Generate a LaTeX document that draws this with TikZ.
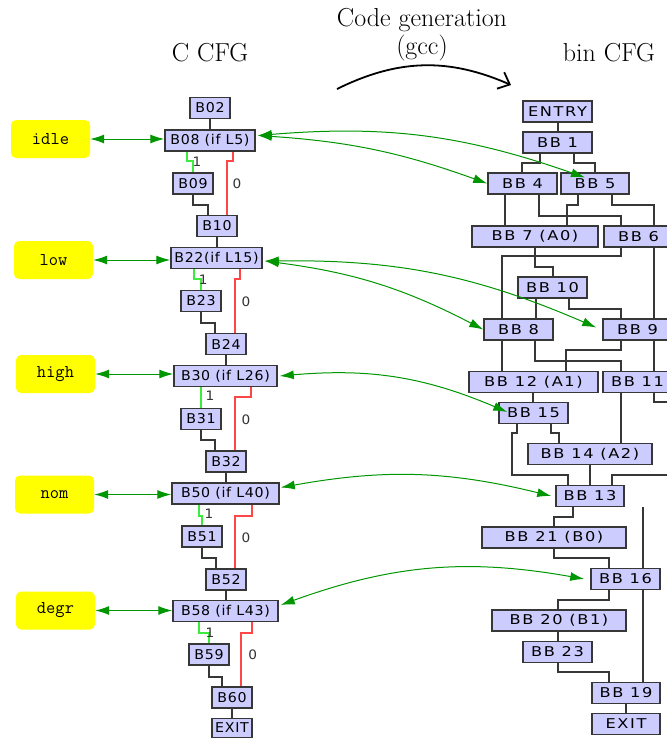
\documentclass[tikz,border=0pt]{standalone}
\usepackage{fontspec}
\usetikzlibrary{arrows.meta}
\newfontfamily\gvL[FakeStretch=1.05,LetterSpace=5]{DejaVu Sans}
\newfontfamily\gvR[FakeStretch=1.2,LetterSpace=12]{DejaVu Sans}
\definecolor{nfill}{RGB}{204,204,255}
\definecolor{nline}{RGB}{55,55,55}
\definecolor{tgreen}{RGB}{0,150,0}
\definecolor{egreen}{RGB}{60,235,60}
\definecolor{ered}{RGB}{255,70,70}
\definecolor{ylw}{RGB}{255,255,0}
\begin{document}
\begin{tikzpicture}[x=1pt,y=-1pt,
  bl/.style={draw=nline,fill=nfill,line width=1.5pt,inner sep=0pt,minimum height=21pt,font=\gvL\fontsize{13.5}{16}\selectfont},
  br/.style={bl,font=\gvR\fontsize{13.5}{16}\selectfont},
  lab/.style={fill=ylw,rounded corners=5pt,minimum width=79pt,minimum height=38pt,inner sep=0pt,font=\ttfamily\fontsize{18}{20}\selectfont},
  e/.style={draw=nline,line width=2pt},
  et/.style={draw=egreen,line width=2pt},
  ef/.style={draw=ered,line width=2pt},
  elab/.style={font=\gvL\fontsize{13}{15}\selectfont,text=black!80,inner sep=0pt},
  lnk/.style={draw=tgreen,line width=1pt,{Latex[length=14pt,width=9pt]}-{Latex[length=14pt,width=9pt]}},
  ttl/.style={font=\fontsize{26}{30}\selectfont,inner sep=0pt,anchor=base}
]
\useasboundingbox (0,0) rectangle (667,740);
\clip (0,0) rectangle (667,740);
\fill[white] (0,0) rectangle (667,740);

% titles
\node[ttl] (tc) at (210,61) {C CFG};
\node[ttl] (tb) at (609,61) {bin CFG};
\node[ttl] (tg1) at (422,26.7) {Code generation};
\node[ttl] (tg2) at (422,54) {(gcc)};
\coordinate (ga) at (337,89);
\coordinate (gb) at (511,85);
\draw[line width=1.8pt,-{Straight Barb[length=10pt,width=18pt]}] (ga) to[bend left=25] (gb);

% left CFG
\node[bl,minimum width=40pt] (b02) at (210,108) {B02};
\node[bl,minimum width=90pt] (b08) at (210,140.5) {B08 (if L5)};
\node[bl,minimum width=40pt] (b09) at (193,183.5) {B09};
\node[bl,minimum width=40pt] (b10) at (217,226) {B10};
\node[bl,minimum width=91pt] (b22) at (216.5,258) {B22(if L15)};
\node[bl,minimum width=40pt] (b23) at (201,301) {B23};
\node[bl,minimum width=40pt] (b24) at (226,344) {B24};
\node[bl,minimum width=103pt] (b30) at (225.5,376) {B30 (if L26)};
\node[bl,minimum width=40pt] (b31) at (201,419) {B31};
\node[bl,minimum width=40pt] (b32) at (226,461.5) {B32};
\node[bl,minimum width=107pt] (b50) at (225.5,493.5) {B50 (if L40)};
\node[bl,minimum width=40pt] (b51) at (202,536.5) {B51};
\node[bl,minimum width=40pt] (b52) at (226,579.5) {B52};
\node[bl,minimum width=105pt] (b58) at (225.5,611) {B58 (if L43)};
\node[bl,minimum width=40pt] (b59) at (209,654.5) {B59};
\node[bl,minimum width=40pt] (b60) at (232,697.5) {B60};
\node[bl,minimum width=40pt,minimum height=19pt] (lexit) at (232,728) {EXIT};

\draw[e] (210,0|-b02.south) -- (210,0|-b08.north);
\draw[et] (187,0|-b08.south) -- (187,161) -- (193,161) -- (193,0|-b09.north);
\draw[ef] (233,0|-b08.south) -- (233,161) -- (227,161) -- (227,0|-b10.north);
\draw[e] (193,0|-b09.south) -- (193,205) -- (208,205) -- (208,0|-b10.north);
\draw[e] (217,0|-b10.south) -- (217,0|-b22.north);
\draw[et] (194,0|-b22.south) -- (194,279) -- (201,279) -- (201,0|-b23.north);
\draw[ef] (240,0|-b22.south) -- (240,279) -- (235,279) -- (235,0|-b24.north);
\draw[e] (201,0|-b23.south) -- (201,323) -- (215,323) -- (215,0|-b24.north);
\draw[e] (226,0|-b24.south) -- (226,0|-b30.north);
\draw[et] (201,0|-b30.south) -- (201,0|-b31.north);
\draw[ef] (251,0|-b30.south) -- (251,397) -- (235,397) -- (235,0|-b32.north);
\draw[e] (201,0|-b31.south) -- (201,440) -- (215,440) -- (215,0|-b32.north);
\draw[e] (226,0|-b32.south) -- (226,0|-b50.north);
\draw[et] (199,0|-b50.south) -- (199,516) -- (202,516) -- (202,0|-b51.north);
\draw[ef] (252,0|-b50.south) -- (252,516) -- (235,516) -- (235,0|-b52.north);
\draw[e] (202,0|-b51.south) -- (202,558) -- (216,558) -- (216,0|-b52.north);
\draw[e] (226,0|-b52.south) -- (226,0|-b58.north);
\draw[et] (199,0|-b58.south) -- (199,633) -- (209,633) -- (209,0|-b59.north);
\draw[ef] (252,0|-b58.south) -- (252,633) -- (241,633) -- (241,0|-b60.north);
\draw[e] (209,0|-b59.south) -- (209,677) -- (222,677) -- (222,0|-b60.north);
\draw[e] (232,0|-b60.south) -- (232,0|-lexit.north);

\node[elab] (t1a) at (197,162) {1};
\node[elab] (t0a) at (237,184) {0};
\node[elab] (t1b) at (203.3,280) {1};
\node[elab] (t0b) at (246,301.7) {0};
\node[elab] (t1c) at (210,396) {1};
\node[elab] (t0c) at (246,419.3) {0};
\node[elab] (t1d) at (209,514) {1};
\node[elab] (t0d) at (246,537.3) {0};
\node[elab] (t1e) at (210,632.7) {1};
\node[elab] (t0e) at (252.7,654.3) {0};

% right CFG
\node[br,minimum width=69pt] (entry) at (557.5,111.5) {ENTRY};
\node[br,minimum width=69pt] (bb1) at (557.5,142.5) {BB 1};
\node[br,minimum width=69pt] (bb4) at (522.5,183.5) {BB 4};
\node[br,minimum width=68pt] (bb5) at (595,183.5) {BB 5};
\node[br,minimum width=126pt] (bb7) at (535,236.5) {BB 7 (A0)};
\node[br,minimum width=69pt] (bb6) at (638.5,236.5) {BB 6};
\node[br,minimum width=69pt] (bb10) at (552.5,287.5) {BB 10};
\node[br,minimum width=69pt] (bb8) at (518.5,329.5) {BB 8};
\node[br,minimum width=69pt] (bb9) at (637.5,329.5) {BB 9};
\node[br,minimum width=129pt] (bb12) at (533.5,382) {BB 12 (A1)};
\node[br,minimum width=69pt] (bb11) at (637.5,382) {BB 11};
\node[br,minimum width=69pt] (bb15) at (533.5,413) {BB 15};
\node[br,minimum width=124pt] (bb14) at (590,454) {BB 14 (A2)};
\node[br,minimum width=68pt] (bb13) at (590,496) {BB 13};
\node[br,minimum width=144pt] (bb21) at (554,537.5) {BB 21 (B0)};
\node[br,minimum width=69pt] (bb16) at (625.5,579) {BB 16};
\node[br,minimum width=134pt] (bb20) at (559,620.5) {BB 20 (B1)};
\node[br,minimum width=69pt] (bb23) at (557.5,652) {BB 23};
\node[br,minimum width=68pt] (bb19) at (626,693) {BB 19};
\node[br,minimum width=68pt] (rexit) at (626,724) {EXIT};

\draw[e] (558,0|-entry.south) -- (558,0|-bb1.north);
\draw[e] (540,0|-bb1.south) -- (540,163) -- (522,163) -- (522,0|-bb4.north);
\draw[e] (574,0|-bb1.south) -- (574,163) -- (595,163) -- (595,0|-bb5.north);
\draw[e] (505,0|-bb4.south) -- (505,0|-bb7.north);
\draw[e] (539,0|-bb4.south) -- (539,216) -- (621,216) -- (621,0|-bb6.north);
\draw[e] (578,0|-bb5.south) -- (578,205) -- (567,205) -- (567,0|-bb7.north);
\draw[e] (612,0|-bb5.south) -- (612,205) -- (654,205) -- (654,0|-bb6.north);
\draw[e] (654,0|-bb6.south) -- (654,0|-bb9.north);
\draw[e] (654,0|-bb9.south) -- (654,0|-bb11.north);
\coordinate (off1) at (680,402);
\draw[e] (654,0|-bb11.south) -- (654,402) -- (off1);
\draw[e] (621,0|-bb6.south) -- (621,256) -- (502,256) -- (502,0|-bb8.north);
\draw[e] (535,0|-bb7.south) -- (535,267) -- (553,267) -- (553,0|-bb10.north);
\draw[e] (536,0|-bb10.south) -- (536,0|-bb8.north);
\draw[e] (569,0|-bb10.south) -- (569,309) -- (621,309) -- (621,0|-bb9.north);
\draw[e] (621,0|-bb9.south) -- (621,350) -- (566,350) -- (566,0|-bb12.north);
\draw[e] (502,0|-bb8.south) -- (502,0|-bb12.north);
\draw[e] (535,0|-bb8.south) -- (535,361) -- (621,361) -- (621,0|-bb11.north);
\draw[e] (533,0|-bb12.south) -- (533,0|-bb15.north);
\draw[e] (621,0|-bb11.south) -- (621,0|-bb14.north);
\draw[e] (551,0|-bb15.south) -- (551,433) -- (559,433) -- (559,0|-bb14.north);
\draw[e] (517,0|-bb15.south) -- (517,433) -- (512,433) -- (512,475) -- (568,475) -- (568,0|-bb13.north);
\draw[e] (590,0|-bb14.south) -- (590,0|-bb13.north);
\coordinate (off2) at (680,475);
\draw[e] (off2) -- (612,475) -- (612,0|-bb13.north);
\draw[e] (573,0|-bb13.south) -- (573,517) -- (554,517) -- (554,0|-bb21.north);
\draw[e] (643,0|-bb13.south) -- (643,0|-bb16.north);
\draw[e] (554,0|-bb21.south) -- (554,558) -- (609,558) -- (609,0|-bb16.north);
\draw[e] (609,0|-bb16.south) -- (609,600) -- (558,600) -- (558,0|-bb20.north);
\draw[e] (643,0|-bb16.south) -- (643,0|-bb19.north);
\draw[e] (558,0|-bb20.south) -- (558,0|-bb23.north);
\draw[e] (558,0|-bb23.south) -- (558,672) -- (609,672) -- (609,0|-bb19.north);
\draw[e] (626,0|-bb19.south) -- (626,0|-rexit.north);

% mode labels
\node[lab] (idle) at (50.5,139) {idle};
\node[lab] (low) at (53.5,260) {low};
\node[lab] (high) at (55.5,374) {high};
\node[lab] (nom) at (54.5,494.5) {nom};
\node[lab] (degr) at (55.5,610.5) {degr};

\draw[lnk] (idle.east) -- (idle.east -| b08.west);
\draw[lnk] (low.east) -- (low.east -| b22.west);
\draw[lnk] (high.east) -- (high.east -| b30.west);
\draw[lnk] (nom.east) -- (nom.east -| b50.west);
\draw[lnk] (degr.east) -- (degr.east -| b58.west);

% mapping arrows
\draw[lnk] ([xshift=2pt,yshift=5pt]b08.east) to[bend left=8] (bb4.west);
\draw[lnk] ([xshift=2pt,yshift=5pt]b08.east) to[bend left=12] ([xshift=-10pt,yshift=6pt]bb5.center);
\draw[lnk] ([xshift=2pt,yshift=-3pt]b22.east) to[bend left=10] (bb8.west);
\draw[lnk] ([xshift=2pt,yshift=-3pt]b22.east) to[bend left=12] ([xshift=-6pt,yshift=2pt]bb9.west);
\draw[lnk] ([xshift=2pt]b30.east) to[bend left=14] ([xshift=9pt,yshift=1pt]bb15.west);
\draw[lnk] ([xshift=1pt,yshift=6pt]b50.east) to[bend left=12] ([xshift=-4pt]bb13.west);
\draw[lnk] ([xshift=2pt,yshift=6pt]b58.east) to[bend left=15] ([xshift=-6pt]bb16.west);
\end{tikzpicture}
\end{document}
